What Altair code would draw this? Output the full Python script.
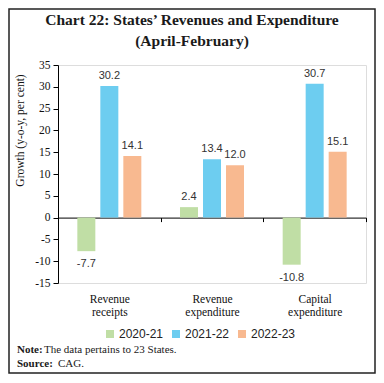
import altair as alt
import pandas as pd

categories = ["Revenue receipts", "Revenue expenditure", "Capital expenditure"]
years = ["2020-21", "2021-22", "2022-23"]
v2020 = [-7.7, 2.4, -10.8]
v2021 = [30.2, 13.4, 30.7]
v2022 = [14.1, 12.0, 15.1]
colors = ["#c0dea5", "#6dcdf0", "#f8b990"]
y_ticks = list(range(-15, 40, 5))

title_lines = ["Chart 22: States\u2019 Revenues and Expenditure", "(April-February)"]
note_bold = ["Note:", "Source:"]
note_text = ["The data pertains to 23 States.", "CAG."]

rows = []
for cat, a, b, c in zip(categories, v2020, v2021, v2022):
    for yr, v in zip(years, [a, b, c]):
        rows.append({"cat": cat, "year": yr, "value": v, "label": f"{v:.1f}"})
df = pd.DataFrame(rows)

SERIF = "Liberation Serif"
SANS = "Liberation Sans"

x = alt.X("cat:N", sort=categories, title=None,
          scale=alt.Scale(paddingInner=0, paddingOuter=0),
          axis=alt.Axis(offset=-65.4, labelPadding=72, tickBand="extent", labelAngle=0,
                        labelExpr="split(datum.label, ' ')", domainColor="#000",
                        tickColor="#000", tickSize=4, labelFont=SERIF, labelFontSize=11.5,
                        labelColor="#111", labelLineHeight=13, domainWidth=1))
xo = alt.XOffset("year:N", sort=years,
                 scale=alt.Scale(paddingInner=0.217, paddingOuter=0.841))
y = alt.Y("value:Q", scale=alt.Scale(domain=[-15, 35], nice=False, zero=False),
          axis=alt.Axis(values=y_ticks, title="Growth (y-o-y, per cent)", grid=False,
                        labelExpr="toString(datum.value)",
                        domainColor="#000", tickColor="#000", tickSize=5, labelPadding=3,
                        labelFont=SERIF, labelFontSize=11.5, labelColor="#111",
                        titleFont=SERIF, titleFontSize=11.5, titleFontWeight="normal",
                        titleColor="#111", titleX=-38, titleY=65, titleAlign="center",
                        titleBaseline="middle"))
color = alt.Color("year:N", sort=years, scale=alt.Scale(domain=years, range=colors),
                  legend=alt.Legend(title=None, orient="none", legendX=46, legendY=263,
                                    direction="horizontal", symbolType="square",
                                    symbolSize=64, symbolStrokeWidth=0, labelFont=SANS,
                                    labelFontSize=12, labelColor="#222", columnPadding=6,
                                    labelOffset=3, padding=0))

base = alt.Chart(df)
bars = base.mark_bar(size=18).encode(x=x, xOffset=xo, y=y, color=color)
pos_lbl = base.transform_filter("datum.value >= 0").mark_text(
    baseline="bottom", dy=-5, font=SANS, fontSize=11, color="#333").encode(
    x=x, xOffset=xo, y=y, text="label:N")
neg_lbl = base.transform_filter("datum.value < 0").mark_text(
    baseline="top", dy=7, font=SANS, fontSize=11, color="#333").encode(
    x=x, xOffset=xo, y=y, text="label:N")


def txt(s, xv, yv, size, weight="normal", align="left"):
    return alt.Chart(pd.DataFrame({"t": [s]})).mark_text(
        font=SERIF, fontSize=size, fontWeight=weight, color="#1a1a1a", align=align,
        baseline="middle").encode(x=alt.value(xv), y=alt.value(yv), text="t:N")


title1 = txt(title_lines[0], 134, -45, 15.5, "bold", "center")
title2 = txt(title_lines[1], 134, -24, 15.5, "bold", "center")
nb1 = txt(note_bold[0], -41, 285, 11, "bold")
nt1 = txt(note_text[0], -14, 285, 11)
nb2 = txt(note_bold[1], -41, 299, 11, "bold")
nt2 = txt(note_text[1], 0, 299, 11)

border = alt.Chart(pd.DataFrame({"b": [1]})).mark_rect(
    fillOpacity=0, stroke="#222", strokeWidth=1.5).encode(
    x=alt.value(-49), x2=alt.value(317), y=alt.value(-56), y2=alt.value(308))

chart = alt.layer(bars, pos_lbl, neg_lbl, title1, title2, nb1, nt1, nb2, nt2, border).properties(
    width=308, height=218,
    autosize=alt.AutoSizeParams(type="none"),
    padding={"left": 50, "top": 57, "right": 10, "bottom": 92},
).configure_view(strokeWidth=0).configure(background="white")

chart.save("out.html", embed_options={"renderer": "svg", "actions": False})
